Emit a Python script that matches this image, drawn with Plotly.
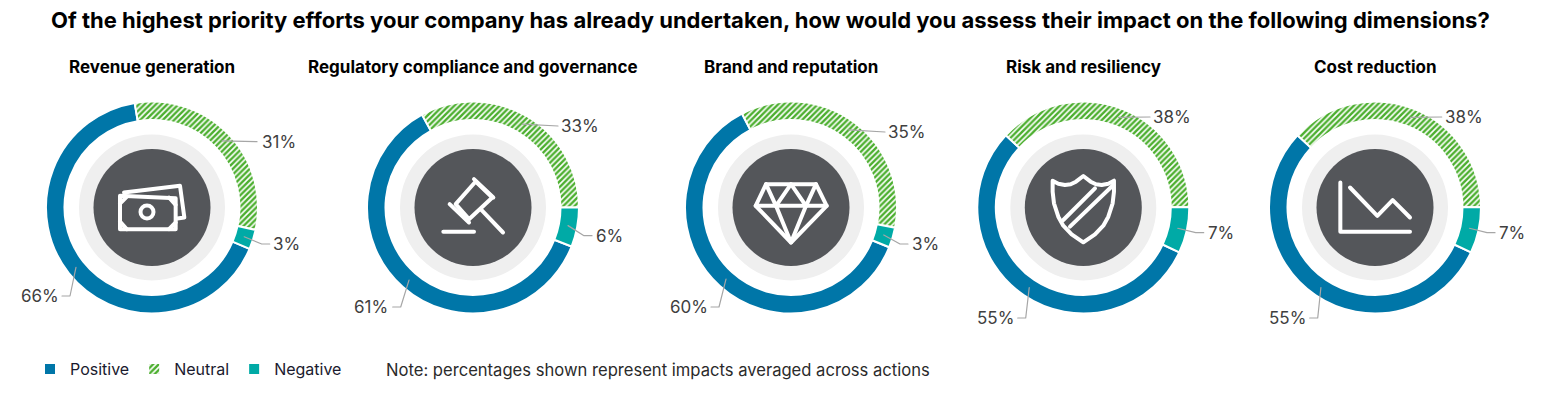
import math
import plotly.graph_objects as go

W, H = 1547, 396

# ---- data ----
categories = ["Revenue generation", "Regulatory compliance and governance",
              "Brand and reputation", "Risk and resiliency", "Cost reduction"]
segments = ["Positive", "Neutral", "Negative"]
positive = [66, 61, 60, 55, 55]
neutral = [31, 33, 35, 38, 38]
negative = [3, 6, 3, 7, 7]
title_text = "Of the highest priority efforts your company has already undertaken, how would you assess their impact on the following dimensions?"
note_text = "Note: percentages shown represent impacts averaged across actions"

# ---- layout / style ----
centers_x = [152, 473, 791, 1083.3, 1375]
center_y = 207.5
R_OUT, R_IN, R_GREY, R_DARK = 106, 87.5, 73, 58.5
rotations = [113, 111.6, 112, 115, 115]
BLUE, GREEN, TEAL = "#0076A8", "#4CAF2F", "#00AAA6"
DARK, GREY, TXT = "#54565A", "#EFEFEF", "#404040"
FONT = "Inter"
# label centres (px): positive, neutral, negative
label_pos = [
    [(40, 296), (279, 141.7), (286.7, 244)],
    [(370.7, 307), (580, 126), (609, 235.7)],
    [(689, 307), (907, 132), (925, 244)],
    [(995.7, 318), (1172, 117), (1220.7, 232.7)],
    [(1287.7, 318), (1463.7, 117), (1512, 232.7)],
]

def px(x): return x / W
def py(y): return 1 - y / H

def path(points, close=False):
    s = "M" + " L".join(f"{px(x):.5f},{py(y):.5f}" for x, y in points)
    return s + (" Z" if close else "")

def z(cx, cy, pts, ox, oy):
    """icon points read at 3x zoom, relative to the zoom centre"""
    return [(ox + (a - cx) / 3, oy + (b - cy) / 3) for a, b in pts]

icons = [
    # money
    (456, 350, [
        ([(360, 315), (527, 322), (527, 415), (360, 415)], True),
        ([(372, 305), (540, 285), (553, 380), (532, 383)], False),
        ([(360, 338), (380, 318)], False), ([(360, 392), (380, 415)], False),
        ([(507, 320), (527, 342)], False), ([(507, 415), (527, 395)], False),
    ]),
    # gavel
    (397, 350, [
        ([(345, 340), (405, 272), (455, 320), (385, 385)], True),
        ([(327, 340), (385, 395)], False), ([(400, 265), (458, 320)], False),
        ([(420, 355), (487, 425)], False), ([(308, 423), (400, 423)], False),
    ]),
    # diamond
    (303, 260, [
        ([(228, 190), (378, 190), (410, 255), (303, 365), (197, 255)], True),
        ([(197, 255), (410, 255)], False),
        ([(228, 190), (258, 255), (303, 190), (348, 255), (378, 190)], False),
        ([(258, 255), (303, 365), (348, 255)], False),
    ]),
    # shield
    (130, 127.5, [
        ([(38, 47), (55, 56), (75, 60), (92, 58), (108, 50), (130, 33), (152, 50), (168, 58), (185, 60),
          (205, 56), (222, 47), (222, 80), (218, 115), (205, 155), (190, 182), (165, 208), (130, 232),
          (95, 208), (70, 182), (55, 155), (42, 115), (38, 80)], True),
        ([(70, 165), (165, 70)], False), ([(90, 185), (220, 60)], False),
    ]),
    # chart
    (345, 350, [
        ([(241, 275), (241, 423), (450, 423)], False),
        ([(270, 290), (352, 375), (398, 328), (450, 380)], False),
    ]),
]

fig = go.Figure()
shapes, annotations = [], []

def text(x, y, s, size, color=TXT, bold=False, xanchor="center"):
    annotations.append(dict(x=px(x), y=py(y), xref="paper", yref="paper", text=f"<b>{s}</b>" if bold else s,
                            showarrow=False, xanchor=xanchor, yanchor="middle",
                            font=dict(family=FONT, size=size, color=color)))

text(770, 20, title_text, 22, "#000000", True)
text(384, 370, note_text, 16.6, "#2b2b2b", xanchor="left")

for i, cat in enumerate(categories):
    cx = centers_x[i]
    vals = [positive[i], neutral[i], negative[i]]
    fig.add_trace(go.Pie(
        labels=segments, values=vals, sort=False, direction="clockwise",
        rotation=rotations[i], hole=R_IN / R_OUT, textinfo="none", hoverinfo="label+percent",
        showlegend=i == 0,
        domain=dict(x=[px(cx - R_OUT), px(cx + R_OUT)], y=[py(center_y + R_OUT), py(center_y - R_OUT)]),
        marker=dict(colors=[BLUE, "#FFFFFF", TEAL], line=dict(color="#FFFFFF", width=2),
                    pattern=dict(shape=["", "/", ""], fgcolor=GREEN, bgcolor="#FFFFFF", size=4, solidity=0.6)),
    ))
    text(cx, 67, cat, 17, "#000000", True)

    # centre discs
    for r, col in ((R_GREY, GREY), (R_DARK, DARK)):
        shapes.append(dict(type="circle", xref="paper", yref="paper", layer="below", line_width=0, fillcolor=col,
                           x0=px(cx - r), x1=px(cx + r), y0=py(center_y + r), y1=py(center_y - r)))

    # icon
    zx, zy, parts = icons[i]
    for pts, closed in parts:
        shapes.append(dict(type="path", xref="paper", yref="paper", layer="above",
                           path=path(z(zx, zy, pts, cx, center_y), closed),
                           line=dict(color="#FFFFFF", width=4)))
    if i == 0:
        r = 6.5
        shapes.append(dict(type="circle", xref="paper", yref="paper", layer="above",
                           x0=px(cx - 5 - r), x1=px(cx - 5 + r), y0=py(center_y + 4.5 + r), y1=py(center_y + 4.5 - r),
                           line=dict(color="#FFFFFF", width=4)))

    # labels + leader lines, anchored on the middle of each slice
    total = sum(vals)
    start = rotations[i]
    for j, v in enumerate(vals):
        sweep = 360 * v / total
        mid = math.radians(start + sweep / 2)
        start += sweep
        rm = (R_OUT + R_IN) / 2
        sx, sy = cx + rm * math.sin(mid), center_y - rm * math.cos(mid)
        lx, ly = label_pos[i][j]
        hw = 17 if v >= 10 else 12
        text(lx, ly, f"{v}%", 17, TXT)
        if j == 0:
            ex, ey = lx + hw + 5, ly
            el = ex + 8
        else:
            ex, ey = lx - hw - 5, ly
            el = ex - 8
        pts = [(sx, sy), (el, ey), (ex, ey)] if j != 1 else [(sx, sy), (ex, ey)]
        shapes.append(dict(type="path", xref="paper", yref="paper", layer="above", path=path(pts),
                           line=dict(color="#A6A6A6", width=1.2)))

fig.update_layout(
    width=W, height=H, margin=dict(l=0, r=0, t=0, b=0), paper_bgcolor="white", plot_bgcolor="white",
    shapes=shapes, annotations=annotations,
    legend=dict(orientation="h", x=px(30), y=py(369), xanchor="left", yanchor="middle", traceorder="normal",
                font=dict(family=FONT, size=16, color="#1a1a2e"), itemwidth=30, bgcolor="rgba(0,0,0,0)"),
)
fig.write_html("out.html", config=dict(displayModeBar=False),
               post_script="var s=document.createElement('style');s.textContent='body{margin:0;overflow:hidden}.shapelayer path{stroke-linecap:round;stroke-linejoin:round}';document.head.appendChild(s);")
